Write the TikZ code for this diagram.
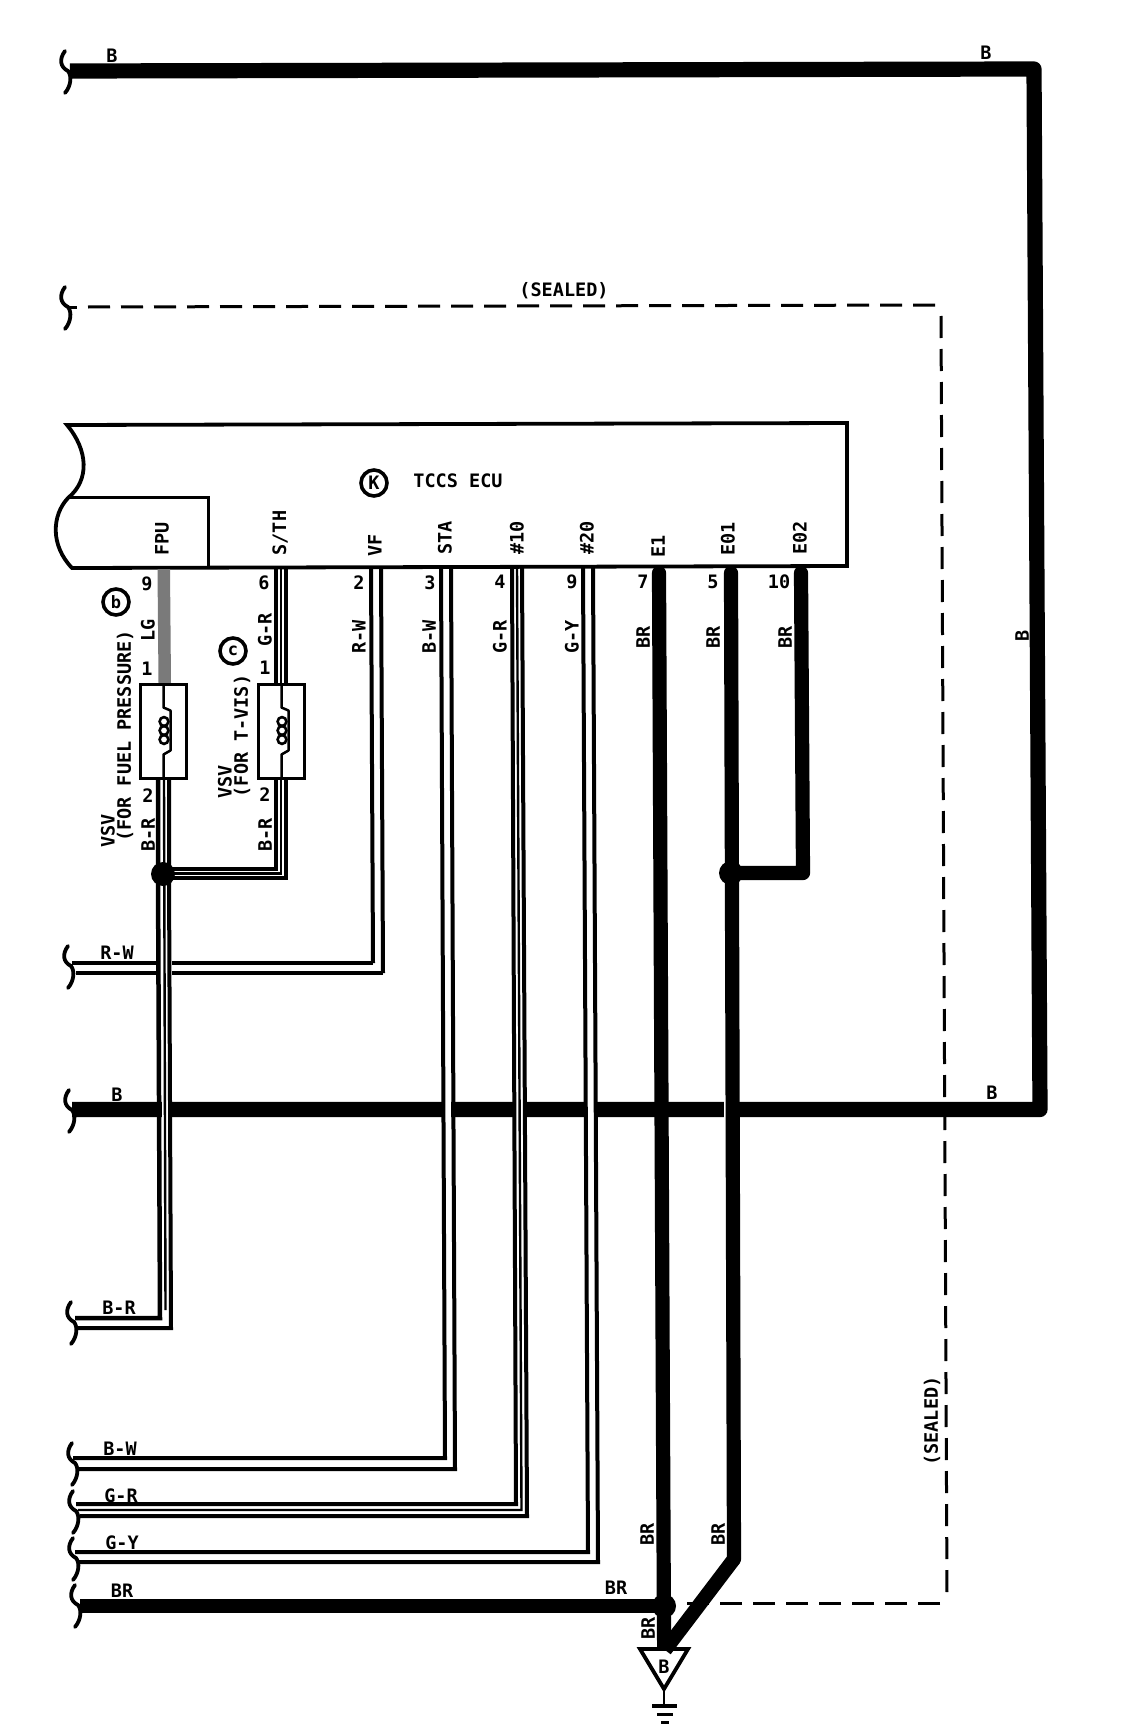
\documentclass[tikz,border=0pt]{standalone}
\usepackage{fontspec}
\setmainfont{DejaVu Sans Mono}
\tikzset{
  every node/.style={inner sep=0pt,outer sep=0pt,font=\fontsize{18.5}{19}\selectfont\bfseries},
  fat/.style={line width=15.2pt,line cap=butt,line join=round},
  brw/.style={line width=14.2pt,line cap=butt,line join=round},
  thn/.style={line width=4pt,line cap=butt,line join=miter},
  mid/.style={line width=2.4pt,line cap=butt,line join=miter},
  frm/.style={line width=3.8pt,line join=miter},
  dsh/.style={line width=3pt,dash pattern=on 22pt off 11pt,line cap=butt},
  cir/.style={circle,draw,line width=3.6pt,minimum size=26pt},
  brcp/.pic={\draw[line width=3.8pt,line cap=round] (-3,-20) .. controls (-9,-12) and (-8,-4) .. (0,0) .. controls (4,5) and (3,15) .. (-3,22);},
  rot/.style={rotate=90}
}
\begin{document}
\begin{tikzpicture}[x=1pt,y=-1pt]
\useasboundingbox (0,0) rectangle (1120,1736);
\fill[white] (0,0) rectangle (1120,1736);
% named points
\coordinate (tl) at (70,71);
\coordinate (tr) at (1034,69);
\coordinate (br) at (1040,1109.5);
\coordinate (bl) at (72,1109.5);
\coordinate (jb) at (163,874);
\coordinate (je) at (731,873);
\coordinate (jg) at (664,1606);
% braces
\foreach \p in {(68,71),(68,307),(71,966),(72,1110),(74,1322),(75,1463),(76,1511),(76,1558),(78,1605)}
  \pic at \p {brcp};
% sealed dashed
\draw[line width=3pt] (68,307) -- (77,307);
\draw[dsh] (88,307) -- (941,305);
\draw[dsh] (941,316) -- (947,1595);
\draw[dsh] (940,1603) -- (685,1603);
% ECU
\draw[frm] (67,425) -- (847,423) -- (847,566) -- (72,568) .. controls (50,545) and (52,515) .. (68,498) .. controls (90,480) and (88,450) .. cycle;
\draw[line width=3pt,line join=miter] (68,497) -- (208,497) -- (208,566);
% B main wire
\draw[fat] (tl) -- (tr) -- (br) -- (bl);
% R-W, BR horizontal
\draw[thn] (373,963) -- (72,963);
\draw[thn] (383,973) -- (76,973);
\draw[brw] (80,1606) -- (jg);
% white gaps
\fill[white] (157,955) rectangle (172,981);
\fill[white] (445,1100) rectangle (451,1120);
\fill[white] (516,1100) rectangle (526,1120);
\fill[white] (587,1100) rectangle (594,1120);
\fill[white] (724.4,1100) rectangle (726,1120);
\fill[white] (162,1100) rectangle (168,1120);
% R-W
\draw[thn] (371,567) -- (373,963);
\draw[thn] (381,567) -- (383,973);
% B-W
\draw[thn] (441,567) -- (445,1458) -- (73,1458);
\draw[thn] (451,567) -- (455,1469) -- (78,1469);
% G-R
\draw[thn] (512,567) -- (516,1504) -- (76,1504);
\draw[mid] (517,567) -- (521.5,1510) -- (78,1510);
\draw[thn] (522,567) -- (527,1516) -- (80,1516);
% G-Y
\draw[thn] (583,567) -- (588,1552) -- (75,1552);
\draw[thn] (593,567) -- (598,1562) -- (79,1562);
% BR heavy
\draw[brw,line cap=round] (659,573) -- (664,1640);
\draw[brw] (664,1606) -- (664,1650);
\draw[brw,line cap=round] (731,573) -- (734,1559);
\draw[brw] (734,1559) -- (665,1650);
\draw[brw,line cap=round] (801,573) -- (803,873) -- (je);
\fill (je) circle (12);
\fill (jg) circle (12);
% LG wire
\fill[black!52] (157.5,569) -- (170,569) -- (171,683) -- (158.5,683) -- cycle;
% VSV boxes: wires
\draw[thn,line width=4.5pt] (158,780) -- (158,874) -- (160,1318) -- (75,1318);
\draw[mid] (164,780) -- (165.5,1310);
\draw[thn] (169,780) -- (169,874) -- (171,1328) -- (78,1328);
\draw[thn] (276,567) -- (276,869) -- (163,869);
\draw[mid] (281,567) -- (281,873.5) -- (163,873.5);
\draw[thn] (286,567) -- (286,878) -- (163,878);
\fill (jb) circle (12);
% box b
\node[draw,fill=white,line width=3.8pt,minimum width=46pt,minimum height=94pt] (vb) at (163.5,731.5) {};
\node[draw,fill=white,line width=3.8pt,minimum width=46pt,minimum height=94pt] (vc) at (281.5,731.5) {};
\foreach \c in {vb,vc}{
  \begin{scope}[shift={(\c.center)}]
  \draw[line width=2.5pt,line join=round] (0,-48) -- (0,-24) -- (7,-21) -- (7,19) -- (0,23) -- (0,48);
  \foreach \yy in {-10,-1,8} \draw[line width=2.6pt] (0.5,\yy) circle (4.4);
  \end{scope}
}
% ground
\node (gt) at (664,1667) {B};
\draw[line width=3.8pt,line join=miter] (640,1649) -- (688,1649) -- (664,1689) -- cycle;
\draw[line width=2.8pt] (664,1689) -- (664,1706);
\draw[line width=4pt] (652,1706) -- (677,1706);
\draw[line width=3pt] (657,1714) -- (673,1714);
\draw[line width=3pt] (661,1722) -- (669,1722);
% circles
\node[cir] (ck) at (374,483) {K};
\node[cir,font=\fontsize{17}{17}\selectfont\bfseries] (cb) at (116,602) {b};
\node[cir,font=\fontsize{17}{17}\selectfont\bfseries] (cc) at (233,651) {c};
% text horizontal
\node (tecu) at (458,481) {TCCS ECU};
\node (s1) at (564,291) {(SEALED)};
\node[rot] (s2) at (932,1421) {(SEALED)};
\node (b1) at (112,56) {B};
\node (b2) at (986,53) {B};
\node[rot] (b3) at (1022,636) {B};
\node (b4) at (117,1095) {B};
\node (b5) at (992,1093) {B};
\node (h1) at (117,953) {R-W};
\node (h2) at (119,1308) {B-R};
\node (h3) at (120,1449) {B-W};
\node (h4) at (121,1496) {G-R};
\node (h5) at (122,1543) {G-Y};
\node (h6) at (122,1591) {BR};
\node (h7) at (616,1588) {BR};
% pin names
\node[rot] (p1) at (162,539) {FPU};
\node[rot] (p2) at (280,533) {S/TH};
\node[rot] (p3) at (375,545) {VF};
\node[rot] (p4) at (445,538) {STA};
\node[rot] (p5) at (517,538) {\#10};
\node[rot] (p6) at (587,538) {\#20};
\node[rot] (p7) at (658,546) {E1};
\node[rot] (p8) at (728,539) {E01};
\node[rot] (p9) at (800,538) {E02};
% pin numbers
\node (n1) at (147,584) {9};
\node (n2) at (264,583) {6};
\node (n3) at (359,583) {2};
\node (n4) at (430,583) {3};
\node (n5) at (500,582) {4};
\node (n6) at (572,582) {9};
\node (n7) at (643,582) {7};
\node (n8) at (713,582) {5};
\node (n9) at (779,582) {10};
\node (n10) at (147,669) {1};
\node (n11) at (265,668) {1};
\node (n12) at (148,796) {2};
\node (n13) at (265,795) {2};
% wire labels
\node[rot] (w1) at (148,630) {LG};
\node[rot] (w2) at (265,630) {G-R};
\node[rot] (w3) at (148,835) {B-R};
\node[rot] (w4) at (265,835) {B-R};
\node[rot] (w5) at (359,637) {R-W};
\node[rot] (w6) at (429,637) {B-W};
\node[rot] (w7) at (500,637) {G-R};
\node[rot] (w8) at (572,637) {G-Y};
\node[rot] (w9) at (643,637) {BR};
\node[rot] (w10) at (713,637) {BR};
\node[rot] (w11) at (785,637) {BR};
\node[rot] (w12) at (647,1534) {BR};
\node[rot] (w13) at (718,1534) {BR};
\node[rot] (w14) at (648,1628) {BR};
% VSV
\node[rot] (v1) at (125,736) {(FOR FUEL PRESSURE)};
\node[rot] (v2) at (108,831) {VSV};
\node[rot] (v3) at (242,736) {(FOR T-VIS)};
\node[rot] (v4) at (225,782) {VSV};
\end{tikzpicture}
\end{document}
